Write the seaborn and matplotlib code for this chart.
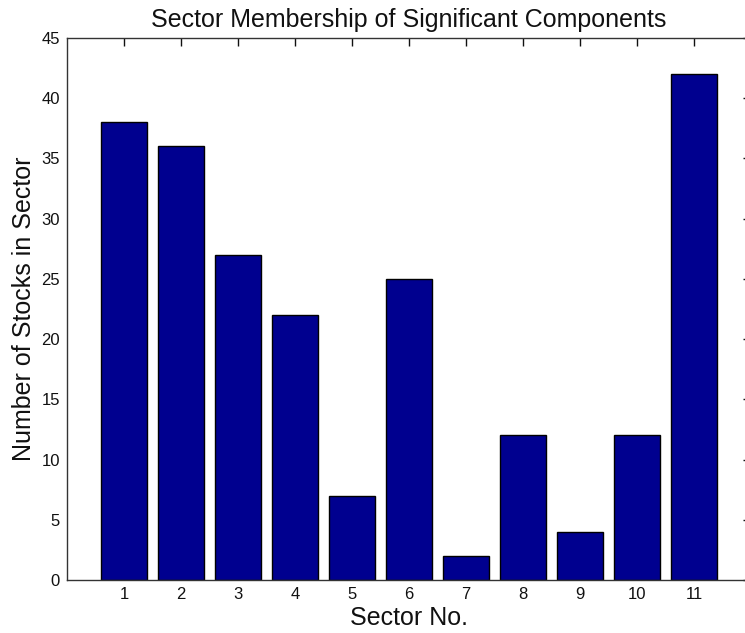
import matplotlib
matplotlib.use("Agg")
import matplotlib.pyplot as plt
import seaborn as sns
import pandas as pd

# sector numbers and counts
sectors = [1, 2, 3, 4, 5, 6, 7, 8, 9, 10, 11]
counts = [38, 36, 27, 22, 7, 25, 2, 12, 4, 12, 42]
yticks = [0, 5, 10, 15, 20, 25, 30, 35, 40, 45]

df = pd.DataFrame({"sector": sectors, "count": counts})

sns.set_style("white")
plt.rcParams["font.family"] = ["Liberation Sans", "DejaVu Sans"]

fig = plt.figure(figsize=(7.45, 6.33), dpi=100)
# axes run past the right edge of the picture, like the cropped original
ax = fig.add_axes([67 / 745, 1 - 580 / 633, 684 / 745, 542 / 633])

sns.barplot(data=df, x="sector", y="count", native_scale=True, width=0.8,
            color="#00008F", saturation=1, edgecolor="black", linewidth=1,
            ax=ax)

ax.set_xlim(0, 12)
ax.set_ylim(0, 45)
ax.set_xticks(sectors)
ax.set_yticks(yticks)
ax.tick_params(direction="in", top=True, right=True, length=6, width=1,
               labelsize=12, colors="#111111", pad=5)
for s in ax.spines.values():
    s.set_color("#333333")
    s.set_linewidth(1)

ax.set_title("Sector Membership of Significant Components", fontsize=18,
             pad=8, color="#111111")
ax.set_xlabel("Sector No.", fontsize=18, labelpad=3, color="#111111")
ax.set_ylabel("Number of Stocks in Sector", fontsize=18, labelpad=4,
              color="#111111")

fig.savefig("out.png", dpi=100)
